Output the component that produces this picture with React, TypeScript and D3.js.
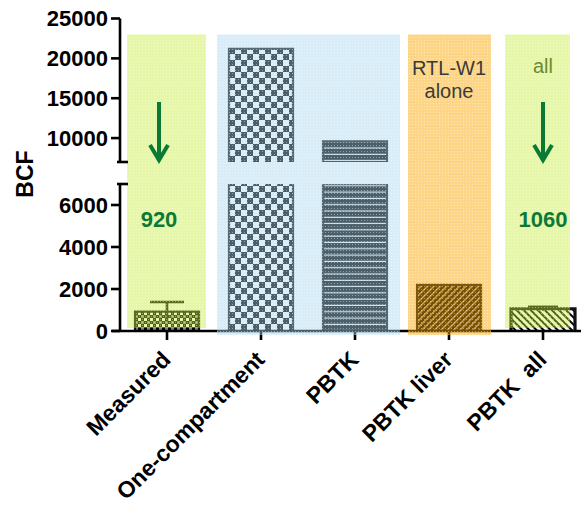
import React from "react";
import * as d3 from "d3";

// Bioconcentration factor by estimation method
const categories = ["Measured", "One-compartment", "PBTK", "PBTK liver", "PBTK  all"];
const bcfValues = [920, 21200, 9600, 2200, 1060];
const bcfErrors = [460, 0, 0, 0, 90];
const valueLabels = ["920", "", "", "", "1060"];
const lowerTicks = [0, 2000, 4000, 6000];
const upperTicks = [10000, 15000, 20000, 25000];
const groupNotes = [["RTL-W1", "alone"], ["all"]];

const W = 581;
const H = 508;
const FONT = "'Liberation Sans', Arial, Helvetica, sans-serif";

// broken y axis: two linear segments
const yLow = d3.scaleLinear().domain([0, 7000]).range([331, 184]);
const yHigh = d3.scaleLinear().domain([7000, 25000]).range([162, 18.5]);
const segments = [yLow, yHigh];

const x = d3.scalePoint<string>().domain(categories).range([167, 543]);
const barW = 64;
const axisX = 120;

const patterns = ["chkSmall", "chkLarge", "stripes", "hatchUp", "hatchDown"];

// tinted highlight panels laid over the plot
const panels = [
  { from: 0, to: 0, l: -40, r: 39, bottom: 328, color: "rgb(196,236,50)", op: 0.42 },
  { from: 1, to: 2, l: -44, r: 45, bottom: 335, color: "rgb(168,214,237)", op: 0.445 },
  { from: 3, to: 3, l: -41, r: 42, bottom: 335, color: "rgb(250,165,0)", op: 0.47 },
  { from: 4, to: 4, l: -38, r: 27, bottom: 328, color: "rgb(196,236,50)", op: 0.42 },
];

function Bar({ i }: { i: number }) {
  const v = bcfValues[i];
  const cx = x(categories[i])!;
  const x0 = cx - barW / 2;
  const x1 = cx + barW / 2;
  const parts: React.ReactNode[] = [];
  segments.forEach((s, k) => {
    const [d0, d1] = s.domain();
    if (v <= d0) return;
    const top = Math.min(v, d1);
    const yt = s(top);
    const yb = s(d0);
    const closed = v <= d1;
    const sw = i === 4 ? 3.2 : 2.2;
    const outline = closed
      ? `M${x0},${yb}V${yt}H${x1}V${yb}`
      : `M${x0},${yb}V${yt}M${x1},${yt}V${yb}`;
    parts.push(
      <g key={k}>
        <rect x={x0} y={yt} width={barW} height={yb - yt} fill={`url(#${patterns[i]})`} />
        <path d={outline} fill="none" stroke="#111" strokeWidth={sw} />
      </g>
    );
  });
  const e = bcfErrors[i];
  if (e > 0) {
    const hi = yLow(v + e);
    const lo = yLow(v - e);
    const capW = i === 0 ? 34 : 30;
    parts.push(
      <g key="err" stroke="#111" strokeWidth={2.6} fill="none">
        <line x1={cx} x2={cx} y1={lo} y2={hi} />
        <line x1={cx - capW / 2} x2={cx + capW / 2} y1={hi} y2={hi} />
      </g>
    );
  }
  return <g>{parts}</g>;
}

function Arrow({ cx }: { cx: number }) {
  return (
    <g stroke="#0b7a36" strokeWidth={4} fill="none" strokeLinecap="butt">
      <line x1={cx} x2={cx} y1={102} y2={159} />
      <path d={`M${cx - 9},${145} L${cx},${160} L${cx + 9},${145}`} strokeLinejoin="miter" />
    </g>
  );
}

export default function App() {
  return (
    <svg
      width={W}
      height={H}
      viewBox={`0 0 ${W} ${H}`}
      style={{ position: "absolute", left: 0, top: 0, background: "#fff" }}
      fontFamily={FONT}
    >
      <defs>
        <pattern id="chkSmall" width={6} height={6} patternUnits="userSpaceOnUse">
          <rect width={6} height={6} fill="#000" />
          <rect x={0} y={0} width={3} height={3} fill="#fff" />
          <rect x={3} y={3} width={3} height={3} fill="#fff" opacity={0.5} />
        </pattern>
        <pattern id="chkLarge" x={229} y={0} width={12} height={12} patternUnits="userSpaceOnUse">
          <rect width={12} height={12} fill="#fff" />
          <rect x={0} y={0} width={6} height={6} fill="#000" />
          <rect x={6} y={6} width={6} height={6} fill="#000" />
        </pattern>
        <pattern id="stripes" width={8} height={6.3} patternUnits="userSpaceOnUse">
          <rect width={8} height={6.3} fill="#000" />
          <rect y={2.5} width={8} height={1.1} fill="#fff" />
        </pattern>
        <pattern id="hatchUp" width={4.5} height={4.5} patternUnits="userSpaceOnUse" patternTransform="rotate(45)">
          <rect width={4.5} height={4.5} fill="#000" />
          <rect x={0} width={1.4} height={4.5} fill="#fff" opacity={0.7} />
        </pattern>
        <pattern id="hatchDown" width={5} height={5} patternUnits="userSpaceOnUse" patternTransform="rotate(-45)">
          <rect width={5} height={5} fill="#fff" />
          <rect x={0} width={2} height={5} fill="#000" />
        </pattern>
        <pattern id="dots" width={3} height={3} patternUnits="userSpaceOnUse">
          <rect x={1} y={1} width={1} height={1} fill="#fff" opacity={0.4} />
        </pattern>
      </defs>

      {/* bars */}
      {categories.map((_, i) => (
        <Bar key={i} i={i} />
      ))}

      {/* x axis */}
      <line x1={112} x2={W} y1={331} y2={331} stroke="#000" strokeWidth={2.6} />
      {categories.map((c) => (
        <line key={c} x1={x(c)} x2={x(c)} y1={331} y2={340} stroke="#000" strokeWidth={2.6} />
      ))}

      {/* highlight panels */}
      {panels.map((p, k) => {
        const left = x(categories[p.from])! + p.l;
        const right = x(categories[p.to])! + p.r;
        return (
          <g key={k}>
            <rect x={left} y={34.5} width={right - left} height={p.bottom - 34.5} fill={p.color} opacity={p.op} />
            <rect x={left} y={34.5} width={right - left} height={p.bottom - 34.5} fill="url(#dots)" />
          </g>
        );
      })}

      {/* y axis, upper segment */}
      <line x1={axisX} x2={axisX} y1={yHigh(25000)} y2={yHigh(7000)} stroke="#000" strokeWidth={2.6} />
      <line x1={117} x2={128} y1={yHigh(7000)} y2={yHigh(7000)} stroke="#000" strokeWidth={2.6} />
      {/* y axis, lower segment */}
      <line x1={axisX} x2={axisX} y1={yLow(7000)} y2={yLow(0)} stroke="#000" strokeWidth={2.6} />
      <line x1={117} x2={128} y1={yLow(7000)} y2={yLow(7000)} stroke="#000" strokeWidth={2.6} />

      {[...upperTicks.map((t) => [t, yHigh(t)]), ...lowerTicks.map((t) => [t, yLow(t)])].map(([t, y]) => (
        <g key={t}>
          <line x1={111} x2={axisX} y1={y} y2={y} stroke="#000" strokeWidth={2.6} />
          <text x={108} y={y} dy="0.36em" textAnchor="end" fontSize={22} fontWeight="bold" fill="#000">
            {t}
          </text>
        </g>
      ))}

      <text
        transform="translate(33,174) rotate(-90)"
        textAnchor="middle"
        fontSize={23}
        fontWeight="bold"
        fill="#000"
      >
        BCF
      </text>

      {/* category labels */}
      {categories.map((c) => (
        <text
          key={c}
          transform={`translate(${x(c)! + 5},361) rotate(-45)`}
          textAnchor="end"
          fontSize={23}
          fontWeight="bold"
          fill="#000"
          xmlSpace="preserve"
          style={{ whiteSpace: "pre" }}
        >
          {c}
        </text>
      ))}

      {/* annotations */}
      <Arrow cx={x(categories[0])! - 8} />
      <Arrow cx={x(categories[4])!} />
      {valueLabels.map((l, i) =>
        l ? (
          <text
            key={i}
            x={x(categories[i])! + (i === 0 ? -8 : 0)}
            y={227}
            textAnchor="middle"
            fontSize={22}
            fontWeight="bold"
            fill="#0b7a36"
          >
            {l}
          </text>
        ) : null
      )}
      <text x={x(categories[3])} y={75} textAnchor="middle" fontSize={20} fill="#3a3a3a">
        {groupNotes[0][0]}
      </text>
      <text x={x(categories[3])} y={98} textAnchor="middle" fontSize={20} fill="#3a3a3a">
        {groupNotes[0][1]}
      </text>
      <text x={x(categories[4])} y={73} textAnchor="middle" fontSize={20} fill="#6f8a2e">
        {groupNotes[1][0]}
      </text>
    </svg>
  );
}
